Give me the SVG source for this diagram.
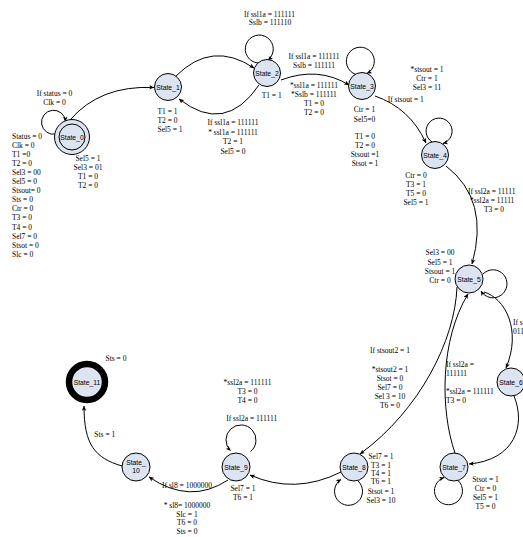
<svg xmlns="http://www.w3.org/2000/svg" width="523" height="537" viewBox="0 0 523 537">
  <style>
    .node circle { fill: #dce3f1; stroke: #000; stroke-width: 1; }
    .node text { font-family: "Liberation Sans", Arial, sans-serif; font-size: 6.8px; text-anchor: middle; fill: #000; }
    .edges path { fill: none; stroke: #000; stroke-width: 1; marker-end: url(#ah); }
    .lbl { font-family: "Liberation Serif", "Times New Roman", serif; font-size: 7.5px; fill: #000; }
    .c { text-anchor: middle; }
    .s { text-anchor: start; }
  </style>
  <defs>
    <marker id="ah" viewBox="0 0 10 10" refX="9.5" refY="5" markerWidth="5" markerHeight="5" orient="auto" markerUnits="userSpaceOnUse">
      <path d="M0,0.5 L10,5 L0,9.5 L2.5,5 z" fill="#000"/>
    </marker>
  </defs>
  <rect width="523" height="537" fill="#fff"/>

  <!-- transitions -->
  <g id="connectors" class="edges">
    <path d="M56 134 A12 12 0 1 1 65.5 121.5"/>
    <path d="M70 120 Q100 85 154 87.5"/>
    <path d="M176 76 Q212 40 254 68"/>
    <path d="M258 63 A14 14 0 1 1 268 60"/>
    <path d="M259 85 Q225 135 179 99"/>
    <path d="M281 80 Q318 66 349 85"/>
    <path d="M356 74.5 A14 14 0 1 1 367 73.5"/>
    <path d="M375 96 Q410 108 426 143"/>
    <path d="M432 142 A13 13 0 1 1 443 143.5"/>
    <path d="M446 166 Q490 200 472 264"/>
    <path d="M483 274 A14 14 0 1 1 481 291"/>
    <path d="M484 292 C505 298 522 330 506 368"/>
    <path d="M514 396 C526 425 515 460 469 464"/>
    <path d="M455 453 C440 410 440 340 468 294"/>
    <path d="M457 287 C455 340 420 410 360 454"/>
    <path d="M458 480.5 A14 14 0 1 1 444 477.5"/>
    <path d="M358 481 A14 14 0 1 1 341 479.5"/>
    <path d="M341 472 Q295 495 250 475"/>
    <path d="M250.6 451.5 A15 15 0 1 0 230.4 450.6"/>
    <path d="M228 480 Q190 505 149 477"/>
    <path d="M122 466 C95 458 84 445 84 406"/>
  </g>

  <!-- states -->
  <g id="state0" class="node">
    <circle cx="72" cy="137" r="17.5"/>
    <circle cx="72" cy="137" r="13"/>
    <text x="72" y="139.5">State_0</text>
  </g>
  <g id="state1" class="node">
    <circle cx="168" cy="87" r="13.5"/>
    <text x="168" y="89.5">State_1</text>
  </g>
  <g id="state2" class="node">
    <circle cx="267" cy="73" r="13.5"/>
    <text x="267" y="75.5">State_2</text>
  </g>
  <g id="state3" class="node">
    <circle cx="362" cy="86" r="13.5"/>
    <text x="362" y="88.5">State_3</text>
  </g>
  <g id="state4" class="node">
    <circle cx="435" cy="155" r="13.5"/>
    <text x="435" y="157.5">State_4</text>
  </g>
  <g id="state5" class="node">
    <circle cx="469" cy="279" r="14"/>
    <text x="469" y="281.5">State_5</text>
  </g>
  <g id="state6" class="node">
    <circle cx="511" cy="382" r="14"/>
    <text x="511" y="384.5">State_6</text>
  </g>
  <g id="state7" class="node">
    <circle cx="454" cy="467" r="14"/>
    <text x="454" y="469.5">State_7</text>
  </g>
  <g id="state8" class="node">
    <circle cx="354" cy="467" r="14"/>
    <text x="354" y="469.5">State_8</text>
  </g>
  <g id="state9" class="node">
    <circle cx="236" cy="467" r="14"/>
    <text x="236" y="469.5">State_9</text>
  </g>
  <g id="state10" class="node">
    <circle cx="136" cy="467" r="14"/>
    <text x="136" y="464.5">State_</text>
    <text x="136" y="473">10</text>
  </g>
  <g id="state11" class="node">
    <circle cx="87" cy="382" r="18" style="stroke-width:6.5"/>
    <text x="87" y="384.5">State_11</text>
  </g>

  <!-- transition and output labels -->
  <g id="labels" class="lbl">
    <text class="c" x="269.5" y="16.5">If ssl1a = 111111</text>
    <text class="c" x="270" y="25.2">Sslb = 111110</text>

    <text class="c" x="54.5" y="95.8">If status = 0</text>
    <text class="c" x="54.5" y="104.5">Clk = 0</text>

    <text class="s" x="12" y="138.5">Status = 0</text>
    <text class="s" x="12" y="147.6">Clk = 0</text>
    <text class="s" x="12" y="156.7">T1 =0</text>
    <text class="s" x="12" y="165.8">T2 = 0</text>
    <text class="s" x="12" y="174.9">Sel3 = 00</text>
    <text class="s" x="12" y="184">Sel5 = 0</text>
    <text class="s" x="12" y="193.1">Stsout= 0</text>
    <text class="s" x="12" y="202.2">Sts = 0</text>
    <text class="s" x="12" y="211.3">Ctr = 0</text>
    <text class="s" x="12" y="220.4">T3 = 0</text>
    <text class="s" x="12" y="229.5">T4 = 0</text>
    <text class="s" x="12" y="238.6">Sel7 = 0</text>
    <text class="s" x="12" y="247.7">Stsot = 0</text>
    <text class="s" x="12" y="256.8">Slc = 0</text>

    <text class="c" x="88" y="161">Sel5 = 1</text>
    <text class="c" x="88" y="170">Sel3 = 01</text>
    <text class="c" x="88" y="179">T1 = 0</text>
    <text class="c" x="88" y="188">T2 = 0</text>

    <text class="s" x="157.5" y="114">T1 = 1</text>
    <text class="s" x="157.5" y="122.8">T2 = 0</text>
    <text class="s" x="157.5" y="131.5">Sel5 = 1</text>

    <text class="c" x="233" y="125">If ssl1a = 111111</text>
    <text class="c" x="233" y="134.5">* ssl1a = 111111</text>
    <text class="c" x="233" y="144">T2 = 1</text>
    <text class="c" x="233" y="153.5">Sel5 = 0</text>

    <text class="c" x="271.7" y="98.2">T1 = 1</text>

    <text class="c" x="314" y="59">If ssl1a = 111111</text>
    <text class="c" x="314" y="68">Sslb = 111111</text>
    <text class="c" x="314" y="88">*ssl1a = 111111</text>
    <text class="c" x="314" y="97">*Sslb = 111111</text>
    <text class="c" x="314" y="106">T1 = 0</text>
    <text class="c" x="314" y="115">T2 = 0</text>

    <text class="c" x="427" y="71.8">*stsout = 1</text>
    <text class="c" x="427" y="80.8">Ctr = 1</text>
    <text class="c" x="427" y="89.8">Sel3 = 11</text>
    <text class="c" x="405.8" y="101.5">If stsout = 1</text>

    <text class="c" x="364.5" y="111.5">Ctr = 1</text>
    <text class="c" x="364.5" y="121.5">Sel5=0</text>
    <text class="c" x="365" y="139.2">T1 = 0</text>
    <text class="c" x="365" y="147.8">T2 = 0</text>
    <text class="c" x="365" y="156.8">Stsout =1</text>
    <text class="c" x="365" y="165.8">Stsot = 1</text>

    <text class="c" x="416" y="177.5">Ctr = 0</text>
    <text class="c" x="416" y="186.5">T3 = 1</text>
    <text class="c" x="416" y="195.5">T5 = 0</text>
    <text class="c" x="416" y="204.8">Sel5 = 1</text>

    <text class="s" x="468" y="194.2">If ssl2a = 11111</text>
    <text class="s" x="470" y="202.5">*ssl2a = 11111</text>
    <text class="c" x="494" y="211.8">T3 = 0</text>

    <text class="c" x="440" y="255.2">Sel3 = 00</text>
    <text class="c" x="440" y="264.5">Sel5 = 1</text>
    <text class="c" x="440" y="273.5">Stsout = 1</text>
    <text class="c" x="440" y="282.5">Ctr = 0</text>

    <text class="s" x="513" y="324.5">If s</text>
    <text class="s" x="513" y="333.5">011</text>

    <text class="s" x="446" y="366.5">If ssl2a =</text>
    <text class="s" x="446" y="375.5">111111</text>
    <text class="s" x="446" y="393.5">*ssl2a = 111111</text>
    <text class="s" x="446" y="402.5">T3 = 0</text>

    <text class="c" x="485.5" y="482">Stsot = 1</text>
    <text class="c" x="485.5" y="491">Ctr = 0</text>
    <text class="c" x="485.5" y="500">Sel5 = 1</text>
    <text class="c" x="485.5" y="509">T5 = 0</text>

    <text class="c" x="390" y="352.5">If stsout2 = 1</text>
    <text class="c" x="390" y="371.8">*stsout2 = 1</text>
    <text class="c" x="390" y="380.8">Stsot = 0</text>
    <text class="c" x="390" y="389.8">Sel7 = 0</text>
    <text class="c" x="390" y="399.2">Sel 3 = 10</text>
    <text class="c" x="390" y="408.2">T6 = 0</text>

    <text class="c" x="381" y="459.2">Sel7 = 1</text>
    <text class="c" x="381" y="467.5">T3 = 1</text>
    <text class="c" x="381" y="475.8">T4 = 1</text>
    <text class="c" x="381" y="484.2">T6 = 1</text>
    <text class="c" x="381" y="493.5">Stsot = 1</text>
    <text class="c" x="381" y="502.5">Sel3 = 10</text>

    <text class="c" x="247.5" y="385.2">*ssl2a = 111111</text>
    <text class="c" x="247.5" y="394.2">T3 = 0</text>
    <text class="c" x="247.5" y="402.5">T4 = 0</text>
    <text class="c" x="251.7" y="420.8">If ssl2a = 111111</text>

    <text class="c" x="243" y="490.8">Sel7 = 1</text>
    <text class="c" x="243" y="499.8">T6 = 1</text>

    <text class="c" x="187" y="488">If sl8 = 1000000</text>
    <text class="c" x="187" y="507.5">* sl8= 1000000</text>
    <text class="c" x="187" y="516.5">Slc = 1</text>
    <text class="c" x="187" y="525.2">T6 = 0</text>
    <text class="c" x="187" y="534.2">Sts = 0</text>

    <text class="c" x="104.8" y="436.5">Sts = 1</text>
    <text class="c" x="116" y="360.5">Sts = 0</text>
  </g>
</svg>
